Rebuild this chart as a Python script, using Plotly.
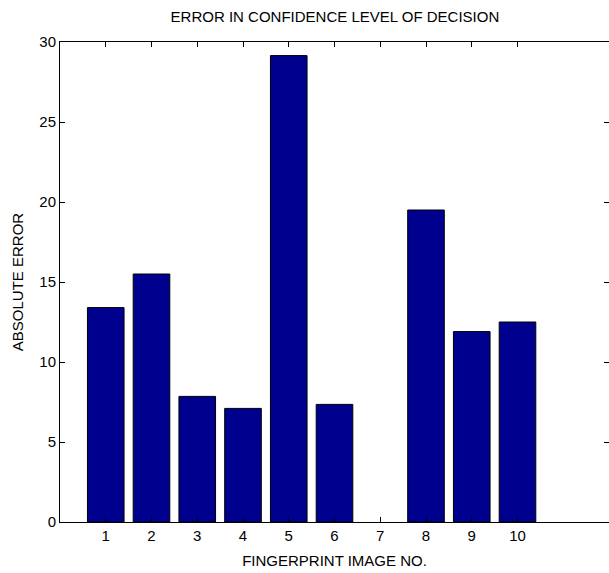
import plotly.graph_objects as go

image_no = [1, 2, 3, 4, 5, 6, 7, 8, 9, 10]
abs_error = [13.4, 15.5, 7.85, 7.1, 29.15, 7.35, 0.0, 19.5, 11.9, 12.5]
x_ticks = [1, 2, 3, 4, 5, 6, 7, 8, 9, 10]
y_ticks = [0, 5, 10, 15, 20, 25, 30]

edge_widths = [1 if v > 0 else 0 for v in abs_error]

fig = go.Figure(
    go.Bar(
        x=image_no,
        y=abs_error,
        width=0.8,
        marker=dict(color="#00008F", line=dict(color="black", width=edge_widths)),
    )
)

fam = "Liberation Sans, Arial, sans-serif"
tick_font = dict(family=fam, size=15, color="black")
label_font = dict(family=fam, size=15, color="black")

fig.update_layout(
    width=609,
    height=573,
    margin=dict(l=60, r=0, t=42, b=51),
    paper_bgcolor="white",
    plot_bgcolor="white",
    font=tick_font,
    showlegend=False,
    title=dict(
        text="ERROR IN CONFIDENCE LEVEL OF DECISION",
        x=0.55,
        xanchor="center",
        y=1 - 17 / 573,
        yanchor="middle",
        font=dict(family=fam, size=15, color="black"),
    ),
)

fig.update_xaxes(
    range=[0, 12],
    tickmode="array",
    tickvals=x_ticks,
    ticktext=[str(v) for v in x_ticks],
    ticks="inside",
    ticklen=5,
    tickcolor="black",
    showline=True,
    linecolor="black",
    linewidth=1,
    mirror="ticks",
    showgrid=False,
    zeroline=False,
    title=dict(text="FINGERPRINT IMAGE NO.", standoff=12, font=label_font),
    tickfont=tick_font,
)

fig.update_yaxes(
    range=[0, 30],
    tickmode="array",
    tickvals=y_ticks,
    ticktext=[str(v) for v in y_ticks],
    ticks="inside",
    ticklen=5,
    tickcolor="black",
    showline=True,
    linecolor="black",
    linewidth=1,
    mirror="ticks",
    showgrid=False,
    zeroline=False,
    title=dict(text="ABSOLUTE ERROR", standoff=12, font=label_font),
    tickfont=tick_font,
)

fig.write_html(
    "out.html",
    config={"displayModeBar": False},
    post_script="document.body.style.margin='0';",
)
